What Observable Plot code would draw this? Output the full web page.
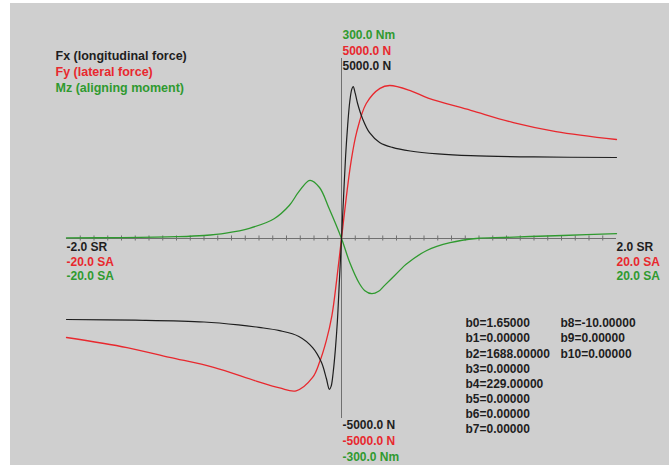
<!DOCTYPE html>
<html>
<head>
<meta charset="utf-8">
<script src="https://cdn.jsdelivr.net/npm/d3@7"></script>
<script src="https://cdn.jsdelivr.net/npm/@observablehq/plot@0.6"></script>
<style>
  html, body { margin: 0; padding: 0; background: #ffffff; }
  #bg { position: absolute; left: 0; top: 0; width: 671px; height: 470px; box-sizing: border-box;
        background: #cfcfcf; border-left: 10px solid #fff; border-top: 3px solid #fff; border-bottom: 5px solid #fff; border-right: 2px solid #fff; }
  #chart { position: absolute; left: 0; top: 0; width: 671px; height: 470px; }
  svg { display: block; }
</style>
</head>
<body>
<div id="bg"></div>
<div id="chart"></div>
<script>
// Fx (longitudinal force) vs slip ratio (SR), N
const fxSR = [-2.0,-1.5,-1.0,-0.75,-0.6,-0.45,-0.31,-0.21,-0.146,-0.11,-0.088,-0.075,-0.06,-0.045,-0.03,-0.015,0,0.015,0.03,0.045,0.06,0.075,0.085,0.1,0.117,0.153,0.204,0.277,0.37,0.5,0.7,0.94,1.4,2.0];
const fxN  = [-2250,-2270,-2320,-2400,-2470,-2560,-2720,-3030,-3440,-3890,-4190,-4100,-3700,-3100,-2300,-1150,0,1150,2300,3150,3800,4150,4220,4030,3750,3330,2940,2670,2530,2430,2350,2300,2265,2250];

// Fy (lateral force) vs slip angle (SA), N
const fySA = [-20,-15.6,-12.5,-9.3,-6.2,-4.5,-3.3,-2.1,-1.6,-1.1,-0.7,-0.35,0,0.35,0.7,1.1,1.8,2.8,3.5,5.0,6.3,9.4,12.5,15.6,20];
const fyN  = [-2750,-3030,-3300,-3580,-3960,-4150,-4230,-3860,-3440,-2830,-2150,-1150,0,1150,2150,2950,3750,4170,4250,4110,3900,3560,3220,2970,2750];

// Mz (aligning moment) vs slip angle (SA), Nm
const mzSA = [-20,-16,-12,-10,-8.4,-6.7,-4.9,-3.8,-3.1,-2.3,-1.6,-0.9,0,0.6,1.3,1.7,2.2,2.7,3.1,4.2,4.7,6.2,7.9,9.8,11.8,13.7,16.1,20];
const mzNm = [1,1.5,3,5,9,17,33,55,78,97,85,50,0,-40,-75,-87,-92,-88,-79,-54,-43,-20,-7,0,1.7,3.3,5,8];

// axis ticks (SR)
const tickSR = d3.range(-19, 20).map(i => i / 10).filter(v => v !== 0);

// legend and labels
const legendText = ["Fx (longitudinal force)", "Fy (lateral force)", "Mz (aligning moment)"];
const topLabels = ["300.0 Nm", "5000.0 N", "5000.0 N"];
const bottomLabels = ["-5000.0 N", "-5000.0 N", "-300.0 Nm"];
const leftLabels = ["-2.0 SR", "-20.0 SA", "-20.0 SA"];
const rightLabels = ["2.0 SR", "20.0 SA", "20.0 SA"];
const paramsCol1 = ["b0=1.65000","b1=0.00000","b2=1688.00000","b3=0.00000","b4=229.00000","b5=0.00000","b6=0.00000","b7=0.00000"];
const paramsCol2 = ["b8=-10.00000","b9=0.00000","b10=0.00000"];

const colBlack = "#1e1e1e", colRed = "#e8282e", colGreen = "#2f9a2f";
const axisColor = "#707070";

const fx = fxSR.map((s, i) => ({x: s, y: fxN[i]}));
const fy = fySA.map((a, i) => ({x: a / 10, y: fyN[i]}));
const mz = mzSA.map((a, i) => ({x: a / 10, y: mzNm[i] * 5000 / 300}));

const font = "'Liberation Sans', Arial, sans-serif";
const txt = {fontSize: 12, fontWeight: "bold", fontFamily: font, textAnchor: "start", lineAnchor: "middle"};

const textMarks = [];
legendText.forEach((t, i) => textMarks.push(Plot.text([t], {frameAnchor: "top-left", text: d => d, dx: 55, dy: 55 + i * 16, fill: [colBlack, colRed, colGreen][i], ...txt, fontSize: 12.5})));
topLabels.forEach((t, i) => textMarks.push(Plot.text([t], {x: () => 0, y: () => 5000, text: d => d, dx: 1, dy: -23 + i * 15.5, fill: [colGreen, colRed, colBlack][i], ...txt})));
bottomLabels.forEach((t, i) => textMarks.push(Plot.text([t], {x: () => 0, y: () => -5000, text: d => d, dx: 1, dy: 7 + i * 16, fill: [colBlack, colRed, colGreen][i], ...txt})));
leftLabels.forEach((t, i) => textMarks.push(Plot.text([t], {x: () => -2, y: () => 0, text: d => d, dx: 0, dy: 9 + i * 14.5, fill: [colBlack, colRed, colGreen][i], ...txt})));
rightLabels.forEach((t, i) => textMarks.push(Plot.text([t], {x: () => 2, y: () => 0, text: d => d, dx: 0, dy: 9 + i * 14.5, fill: [colBlack, colRed, colGreen][i], ...txt})));
paramsCol1.forEach((t, i) => textMarks.push(Plot.text([t], {frameAnchor: "top-left", text: d => d, dx: 465, dy: 323 + i * 15.1, fill: colBlack, ...txt})));
paramsCol2.forEach((t, i) => textMarks.push(Plot.text([t], {frameAnchor: "top-left", text: d => d, dx: 560, dy: 323 + i * 15.1, fill: colBlack, ...txt})));

const plot = Plot.plot({
  width: 671,
  height: 470,
  margin: 0,
  style: {background: "transparent", fontFamily: font, overflow: "visible"},
  x: {domain: [-2, 2], range: [66, 616], axis: null},
  y: {domain: [-5000, 5000], range: [418, 58], axis: null},
  marks: [
    Plot.ruleY([0], {x1: -2, x2: 2, stroke: axisColor, strokeWidth: 1}),
    Plot.ruleX([0], {y1: -5000, y2: 5000, stroke: axisColor, strokeWidth: 1}),
    Plot.ruleX(tickSR, {x: d => d, y1: -70, y2: 70, stroke: axisColor, strokeWidth: 1}),
    Plot.line(mz, {x: "x", y: "y", stroke: colGreen, strokeWidth: 1.3, curve: "catmull-rom"}),
    Plot.line(fy, {x: "x", y: "y", stroke: colRed, strokeWidth: 1.3, curve: "catmull-rom"}),
    Plot.line(fx, {x: "x", y: "y", stroke: colBlack, strokeWidth: 1.2, curve: "catmull-rom"}),
    ...textMarks
  ]
});
document.getElementById("chart").appendChild(plot);
</script>
</body>
</html>
